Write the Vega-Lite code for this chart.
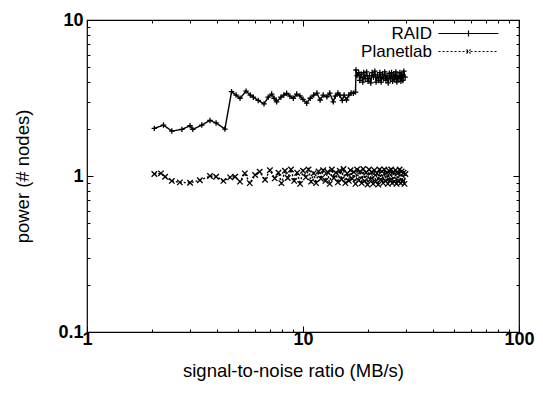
{
  "$schema": "https://vega.github.io/schema/vega-lite/v6.json",
  "autosize": {"type": "none"},
  "padding": {"left": 87, "top": 20, "right": 24, "bottom": 61},
  "width": 432,
  "height": 312,
  "background": "white",
  "config": {
    "view": {"stroke": "black", "strokeWidth": 1.2},
    "font": "Liberation Sans",
    "axis": {"domain": false, "grid": false, "tickColor": "black", "tickWidth": 1, "labelColor": "black", "titleColor": "black"}
  },
  "datasets": {
    "pts": [
      {"s": "RAID", "x": 2.05, "y": 2.02}, {"s": "RAID", "x": 2.26, "y": 2.12}, {"s": "RAID", "x": 2.47, "y": 1.94}, {"s": "RAID", "x": 2.75, "y": 1.99},
      {"s": "RAID", "x": 3.0, "y": 2.1}, {"s": "RAID", "x": 3.09, "y": 1.99}, {"s": "RAID", "x": 3.4, "y": 2.12}, {"s": "RAID", "x": 3.71, "y": 2.27},
      {"s": "RAID", "x": 3.96, "y": 2.19}, {"s": "RAID", "x": 4.35, "y": 2.0}, {"s": "RAID", "x": 4.67, "y": 3.47}, {"s": "RAID", "x": 4.9, "y": 3.3},
      {"s": "RAID", "x": 5.11, "y": 3.15}, {"s": "RAID", "x": 5.45, "y": 3.5}, {"s": "RAID", "x": 5.7, "y": 3.3}, {"s": "RAID", "x": 5.89, "y": 3.2},
      {"s": "RAID", "x": 6.2, "y": 3.05}, {"s": "RAID", "x": 6.6, "y": 2.9}, {"s": "RAID", "x": 6.9, "y": 3.2}, {"s": "RAID", "x": 7.16, "y": 3.35},
      {"s": "RAID", "x": 7.35, "y": 3.15}, {"s": "RAID", "x": 7.55, "y": 2.99}, {"s": "RAID", "x": 7.9, "y": 3.2}, {"s": "RAID", "x": 8.15, "y": 3.3},
      {"s": "RAID", "x": 8.4, "y": 3.39}, {"s": "RAID", "x": 8.7, "y": 3.25}, {"s": "RAID", "x": 9.02, "y": 3.15}, {"s": "RAID", "x": 9.35, "y": 3.35},
      {"s": "RAID", "x": 9.68, "y": 3.26}, {"s": "RAID", "x": 10.0, "y": 3.1}, {"s": "RAID", "x": 10.4, "y": 2.93}, {"s": "RAID", "x": 10.8, "y": 3.15},
      {"s": "RAID", "x": 11.2, "y": 3.3}, {"s": "RAID", "x": 11.6, "y": 3.4}, {"s": "RAID", "x": 12.0, "y": 3.07}, {"s": "RAID", "x": 12.4, "y": 3.3},
      {"s": "RAID", "x": 12.9, "y": 3.22}, {"s": "RAID", "x": 13.3, "y": 3.4}, {"s": "RAID", "x": 13.8, "y": 2.99}, {"s": "RAID", "x": 14.1, "y": 3.25},
      {"s": "RAID", "x": 14.5, "y": 3.4}, {"s": "RAID", "x": 14.8, "y": 3.3}, {"s": "RAID", "x": 15.2, "y": 3.05}, {"s": "RAID", "x": 15.5, "y": 3.3},
      {"s": "RAID", "x": 15.9, "y": 3.07}, {"s": "RAID", "x": 16.3, "y": 3.3}, {"s": "RAID", "x": 16.7, "y": 3.4}, {"s": "RAID", "x": 17.1, "y": 3.39},
      {"s": "RAID", "x": 17.5, "y": 3.45}, {"s": "RAID", "x": 17.6, "y": 4.78}, {"s": "RAID", "x": 17.8, "y": 4.4}, {"s": "RAID", "x": 18.1, "y": 4.6},
      {"s": "RAID", "x": 18.3, "y": 4.1}, {"s": "RAID", "x": 18.6, "y": 4.5}, {"s": "RAID", "x": 18.9, "y": 4.0}, {"s": "RAID", "x": 19.1, "y": 4.6},
      {"s": "RAID", "x": 19.4, "y": 4.2}, {"s": "RAID", "x": 19.7, "y": 4.65}, {"s": "RAID", "x": 20.0, "y": 4.05}, {"s": "RAID", "x": 20.3, "y": 4.4},
      {"s": "RAID", "x": 20.6, "y": 3.95}, {"s": "RAID", "x": 20.9, "y": 4.6}, {"s": "RAID", "x": 21.2, "y": 4.3}, {"s": "RAID", "x": 21.5, "y": 4.7},
      {"s": "RAID", "x": 21.8, "y": 4.0}, {"s": "RAID", "x": 22.1, "y": 4.45}, {"s": "RAID", "x": 22.4, "y": 4.1}, {"s": "RAID", "x": 22.7, "y": 4.6},
      {"s": "RAID", "x": 23.0, "y": 4.0}, {"s": "RAID", "x": 23.3, "y": 4.5}, {"s": "RAID", "x": 23.6, "y": 4.2}, {"s": "RAID", "x": 23.9, "y": 4.65},
      {"s": "RAID", "x": 24.2, "y": 4.1}, {"s": "RAID", "x": 24.5, "y": 4.4}, {"s": "RAID", "x": 24.8, "y": 3.95}, {"s": "RAID", "x": 25.1, "y": 4.55},
      {"s": "RAID", "x": 25.4, "y": 4.2}, {"s": "RAID", "x": 25.7, "y": 4.6}, {"s": "RAID", "x": 26.0, "y": 4.05}, {"s": "RAID", "x": 26.3, "y": 4.5},
      {"s": "RAID", "x": 26.6, "y": 4.15}, {"s": "RAID", "x": 26.9, "y": 4.65}, {"s": "RAID", "x": 27.2, "y": 4.0}, {"s": "RAID", "x": 27.5, "y": 4.4},
      {"s": "RAID", "x": 27.8, "y": 4.2}, {"s": "RAID", "x": 28.1, "y": 4.6}, {"s": "RAID", "x": 28.4, "y": 4.05}, {"s": "RAID", "x": 28.7, "y": 4.5},
      {"s": "RAID", "x": 29.0, "y": 4.1}, {"s": "RAID", "x": 29.3, "y": 4.7}, {"s": "RAID", "x": 29.7, "y": 4.3},
      {"s": "Planetlab", "x": 2.05, "y": 1.03}, {"s": "Planetlab", "x": 2.2, "y": 1.04}, {"s": "Planetlab", "x": 2.3, "y": 0.99}, {"s": "Planetlab", "x": 2.47, "y": 0.93},
      {"s": "Planetlab", "x": 2.69, "y": 0.91}, {"s": "Planetlab", "x": 3.0, "y": 0.905}, {"s": "Planetlab", "x": 3.33, "y": 0.94}, {"s": "Planetlab", "x": 3.71, "y": 1.0},
      {"s": "Planetlab", "x": 3.96, "y": 0.99}, {"s": "Planetlab", "x": 4.28, "y": 0.93}, {"s": "Planetlab", "x": 4.6, "y": 0.98}, {"s": "Planetlab", "x": 4.85, "y": 0.99},
      {"s": "Planetlab", "x": 5.11, "y": 0.92}, {"s": "Planetlab", "x": 5.38, "y": 1.04}, {"s": "Planetlab", "x": 5.67, "y": 0.9}, {"s": "Planetlab", "x": 6.0, "y": 1.015},
      {"s": "Planetlab", "x": 6.3, "y": 1.065}, {"s": "Planetlab", "x": 6.67, "y": 0.945}, {"s": "Planetlab", "x": 7.03, "y": 1.09}, {"s": "Planetlab", "x": 7.4, "y": 0.965},
      {"s": "Planetlab", "x": 7.7, "y": 1.05}, {"s": "Planetlab", "x": 7.95, "y": 0.9}, {"s": "Planetlab", "x": 8.25, "y": 1.08}, {"s": "Planetlab", "x": 8.5, "y": 0.97},
      {"s": "Planetlab", "x": 8.8, "y": 1.1}, {"s": "Planetlab", "x": 9.1, "y": 0.93}, {"s": "Planetlab", "x": 9.4, "y": 1.05}, {"s": "Planetlab", "x": 9.7, "y": 0.89},
      {"s": "Planetlab", "x": 10.0, "y": 1.08}, {"s": "Planetlab", "x": 10.3, "y": 0.98}, {"s": "Planetlab", "x": 10.6, "y": 1.1}, {"s": "Planetlab", "x": 10.9, "y": 0.92},
      {"s": "Planetlab", "x": 11.2, "y": 1.04}, {"s": "Planetlab", "x": 11.5, "y": 0.9}, {"s": "Planetlab", "x": 11.8, "y": 1.07}, {"s": "Planetlab", "x": 12.1, "y": 0.96},
      {"s": "Planetlab", "x": 12.4, "y": 1.09}, {"s": "Planetlab", "x": 12.7, "y": 0.93}, {"s": "Planetlab", "x": 13.0, "y": 1.06}, {"s": "Planetlab", "x": 13.3, "y": 0.89},
      {"s": "Planetlab", "x": 13.6, "y": 1.1}, {"s": "Planetlab", "x": 13.9, "y": 0.97}, {"s": "Planetlab", "x": 14.2, "y": 1.05}, {"s": "Planetlab", "x": 14.5, "y": 0.91},
      {"s": "Planetlab", "x": 14.8, "y": 1.08}, {"s": "Planetlab", "x": 15.1, "y": 0.95}, {"s": "Planetlab", "x": 15.4, "y": 1.11}, {"s": "Planetlab", "x": 15.7, "y": 0.9},
      {"s": "Planetlab", "x": 16.0, "y": 1.04}, {"s": "Planetlab", "x": 16.3, "y": 0.93}, {"s": "Planetlab", "x": 16.6, "y": 1.09}, {"s": "Planetlab", "x": 16.9, "y": 0.96},
      {"s": "Planetlab", "x": 17.2, "y": 1.06}, {"s": "Planetlab", "x": 17.5, "y": 0.89}, {"s": "Planetlab", "x": 17.8, "y": 1.1}, {"s": "Planetlab", "x": 18.1, "y": 0.94},
      {"s": "Planetlab", "x": 18.4, "y": 1.07}, {"s": "Planetlab", "x": 18.7, "y": 0.9}, {"s": "Planetlab", "x": 19.0, "y": 1.11}, {"s": "Planetlab", "x": 19.3, "y": 0.93},
      {"s": "Planetlab", "x": 19.6, "y": 1.05}, {"s": "Planetlab", "x": 19.9, "y": 0.88}, {"s": "Planetlab", "x": 20.2, "y": 1.1}, {"s": "Planetlab", "x": 20.5, "y": 0.95},
      {"s": "Planetlab", "x": 20.8, "y": 1.06}, {"s": "Planetlab", "x": 21.1, "y": 0.89}, {"s": "Planetlab", "x": 21.4, "y": 1.09}, {"s": "Planetlab", "x": 21.7, "y": 0.92},
      {"s": "Planetlab", "x": 22.0, "y": 1.04}, {"s": "Planetlab", "x": 22.3, "y": 0.88}, {"s": "Planetlab", "x": 22.6, "y": 1.1}, {"s": "Planetlab", "x": 22.9, "y": 0.95},
      {"s": "Planetlab", "x": 23.2, "y": 1.07}, {"s": "Planetlab", "x": 23.5, "y": 0.9}, {"s": "Planetlab", "x": 23.8, "y": 1.1}, {"s": "Planetlab", "x": 24.1, "y": 0.93},
      {"s": "Planetlab", "x": 24.4, "y": 1.05}, {"s": "Planetlab", "x": 24.7, "y": 0.89}, {"s": "Planetlab", "x": 25.0, "y": 1.08}, {"s": "Planetlab", "x": 25.3, "y": 0.94},
      {"s": "Planetlab", "x": 25.6, "y": 1.1}, {"s": "Planetlab", "x": 25.9, "y": 0.9}, {"s": "Planetlab", "x": 26.2, "y": 1.06}, {"s": "Planetlab", "x": 26.5, "y": 0.92},
      {"s": "Planetlab", "x": 26.8, "y": 1.09}, {"s": "Planetlab", "x": 27.1, "y": 0.89}, {"s": "Planetlab", "x": 27.4, "y": 1.04}, {"s": "Planetlab", "x": 27.7, "y": 0.93},
      {"s": "Planetlab", "x": 28.0, "y": 1.1}, {"s": "Planetlab", "x": 28.3, "y": 0.9}, {"s": "Planetlab", "x": 28.6, "y": 1.07}, {"s": "Planetlab", "x": 28.9, "y": 0.92},
      {"s": "Planetlab", "x": 29.2, "y": 1.05}, {"s": "Planetlab", "x": 29.5, "y": 0.89}, {"s": "Planetlab", "x": 29.8, "y": 1.03}
    ]
  },
  "data": {"name": "pts"},
  "layer": [
    {
      "mark": {"type": "line", "stroke": "black", "strokeWidth": 1.4},
      "encoding": {
        "x": {
          "field": "x", "type": "quantitative",
          "scale": {"type": "log", "domain": [1, 100], "nice": false},
          "axis": {
            "orient": "bottom",
            "values": [1, 2, 3, 4, 5, 6, 7, 8, 9, 10, 20, 30, 40, 50, 60, 70, 80, 90, 100],
            "labelExpr": "indexof([1, 10, 100], datum.value) >= 0 ? format(datum.value, '~g') : ''",
            "tickSize": {"condition": {"test": "indexof([1, 10, 100], datum.value) >= 0", "value": -6}, "value": -3},
            "labelFontSize": 18, "labelFontWeight": "bold", "labelPadding": 4, "labelFlush": false, "labelOverlap": false,
            "title": "signal-to-noise ratio (MB/s)", "titleFontSize": 18.5, "titleFontWeight": "normal",
            "titleX": 206, "titleAlign": "center", "titleY": 38, "titleBaseline": "middle"
          }
        },
        "y": {
          "field": "y", "type": "quantitative",
          "scale": {"type": "log", "domain": [0.1, 10], "nice": false},
          "axis": {
            "orient": "left",
            "values": [0.1, 0.2, 0.3, 0.4, 0.5, 0.6, 0.7, 0.8, 0.9, 1, 2, 3, 4, 5, 6, 7, 8, 9, 10],
            "labelExpr": "indexof([0.1, 1, 10], datum.value) >= 0 ? format(datum.value, '~g') : ''",
            "tickSize": {"condition": {"test": "indexof([0.1, 1, 10], datum.value) >= 0", "value": -6}, "value": -3},
            "labelFontSize": 18, "labelFontWeight": "bold", "labelPadding": 10, "labelFlush": false, "labelOverlap": false,
            "title": "power (# nodes)", "titleFontSize": 18.5, "titleFontWeight": "normal",
            "titleX": -65, "titleBaseline": "middle"
          }
        },
        "strokeDash": {
          "field": "s", "type": "nominal",
          "scale": {"domain": ["RAID", "Planetlab"], "range": [[1, 0], [2, 2]]},
          "legend": {
            "title": null, "orient": "none", "legendX": 373, "legendY": 5,
            "symbolSize": 100, "labelFontSize": 17, "labelColor": "black",
            "labelAlign": "right", "labelOffset": -45, "padding": 0, "rowPadding": 0,
            "symbolStrokeColor": "black", "symbolStrokeWidth": 1.2,
            "encode": {
              "symbols": {
                "update": {
                  "shape": {"signal": "datum.value === 'RAID' ? 'M-6,0L6,0M0,-0.6L0,0.6' : 'M-6,0L6,0M-0.4,-0.4L0.4,0.4M-0.4,0.4L0.4,-0.4'"},
                  "stroke": {"value": "black"},
                  "fill": {"value": "transparent"}
                }
              }
            }
          }
        }
      }
    },
    {
      "mark": {"type": "point", "filled": false, "stroke": "black", "strokeWidth": 1.3, "opacity": 1, "size": 30},
      "encoding": {
        "x": {
          "field": "x", "type": "quantitative",
          "axis": {
            "orient": "top", "labels": false, "title": null,
            "values": [1, 2, 3, 4, 5, 6, 7, 8, 9, 10, 20, 30, 40, 50, 60, 70, 80, 90, 100],
            "tickSize": {"condition": {"test": "indexof([1, 10, 100], datum.value) >= 0", "value": -6}, "value": -3}
          }
        },
        "y": {
          "field": "y", "type": "quantitative",
          "axis": {
            "orient": "right", "labels": false, "title": null,
            "values": [0.1, 0.2, 0.3, 0.4, 0.5, 0.6, 0.7, 0.8, 0.9, 1, 2, 3, 4, 5, 6, 7, 8, 9, 10],
            "tickSize": {"condition": {"test": "indexof([0.1, 1, 10], datum.value) >= 0", "value": -6}, "value": -3}
          }
        },
        "shape": {
          "condition": {"test": "datum.s === 'RAID'", "value": "M-1,0L1,0M0,-1L0,1"},
          "value": "M-1,-1L1,1M-1,1L1,-1"
        }
      }
    }
  ],
  "resolve": {"axis": {"x": "independent", "y": "independent"}}
}
